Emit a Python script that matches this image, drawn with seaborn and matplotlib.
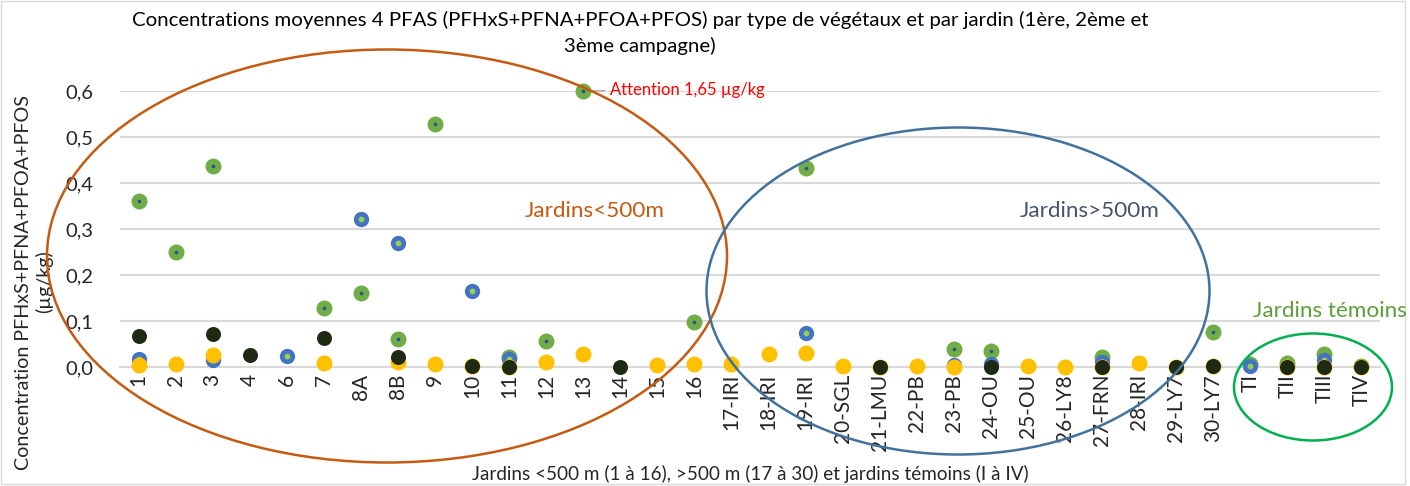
import numpy as np
import pandas as pd
import matplotlib
matplotlib.use("Agg")
import matplotlib.pyplot as plt
from matplotlib.patches import Ellipse, Rectangle
import seaborn as sns

nan = np.nan

categories = ["1", "2", "3", "4", "6", "7", "8A", "8B", "9", "10", "11", "12", "13", "14", "15", "16",
              "17-IRI", "18-IRI", "19-IRI", "20-SGL", "21-LMU", "22-PB", "23-PB", "24-OU", "25-OU",
              "26-LY8", "27-FRN", "28-IRI", "29-LY7", "30-LY7", "TI", "TII", "TIII", "TIV"]

serie_verte = [0.360, 0.250, 0.437, nan, nan, 0.128, 0.160, 0.060, 0.529, nan, 0.022, 0.057, 0.600, nan, nan, 0.097,
               nan, nan, 0.432, nan, nan, nan, 0.040, 0.034, nan,
               nan, 0.022, nan, nan, 0.075, 0.006, 0.009, 0.028, 0.002]
serie_bleue = [0.018, nan, 0.015, nan, 0.024, nan, 0.321, 0.269, nan, 0.166, 0.018, nan, nan, nan, nan, nan,
               nan, nan, 0.073, nan, nan, nan, 0.005, 0.006, nan,
               nan, 0.010, nan, nan, nan, 0.002, nan, 0.015, nan]
serie_jaune = [0.004, 0.006, 0.026, nan, nan, 0.009, nan, 0.011, 0.006, 0.003, 0.001, 0.010, 0.029, nan, 0.004, 0.006,
               0.007, 0.028, 0.031, 0.002, 0.001, 0.002, 0.000, nan, 0.002,
               0.000, 0.001, 0.009, 0.001, 0.003, nan, 0.001, 0.001, 0.001]
serie_noire = [0.068, nan, 0.071, 0.026, nan, 0.062, nan, 0.022, nan, 0.002, 0.000, nan, nan, 0.000, nan, nan,
               nan, nan, nan, nan, 0.000, nan, nan, 0.000, nan,
               nan, 0.000, nan, 0.000, 0.002, nan, 0.000, 0.000, 0.000]

yticks = [0.0, 0.1, 0.2, 0.3, 0.4, 0.5, 0.6]
ytick_labels = ["0,0", "0,1", "0,2", "0,3", "0,4", "0,5", "0,6"]

title = ("Concentrations moyennes 4 PFAS (PFHxS+PFNA+PFOA+PFOS) par type de végétaux et par jardin (1ère, 2ème et\n"
         "3ème campagne)")
ylabel = "Concentration PFHxS+PFNA+PFOA+PFOS\n(µg/kg)"
xlabel = "Jardins <500 m (1 à 16), >500 m (17 à 30) et jardins témoins (I à IV)"
annotation = "Attention 1,65 µg/kg"

sns.set_theme(style="white")
plt.rcParams["font.family"] = ["Lato", "DejaVu Sans"]

W, H = 1410, 486
fig = plt.figure(figsize=(W / 100, H / 100), dpi=100)
ax = fig.add_axes([120 / W, 1 - 367 / H, 1260 / W, 276 / H])

df = pd.DataFrame({"jardin": categories, "verte": serie_verte, "bleue": serie_bleue,
                   "jaune": serie_jaune, "noire": serie_noire})

def strip(col, color, size, z):
    d = df[["jardin", col]].dropna()
    sns.stripplot(data=d, x="jardin", y=col, order=categories, jitter=False, color=color,
                  size=size, linewidth=0, ax=ax, zorder=z)

strip("verte", "#70AD47", 11.5, 3)
strip("verte", "#2F4B9A", 2.6, 3.1)
strip("bleue", "#4472C4", 11.0, 4)
strip("bleue", "#92D050", 4.2, 4.1)
strip("jaune", "#FFC000", 11.5, 5)
strip("noire", "#1E2A14", 10.8, 6)

for c in ax.collections:
    c.set_clip_on(False)

ax.set_ylim(0, 0.6)
ax.set_xlim(-0.5, len(categories) - 0.5)
ax.set_yticks(yticks)
ax.set_yticklabels(ytick_labels, fontsize=14.5)
ax.set_xticks(range(len(categories)))
ax.set_xticklabels(categories, rotation=90, fontsize=15)
ax.tick_params(axis="both", length=0)
ax.tick_params(axis="x", pad=5)
ax.tick_params(axis="y", pad=19)
ax.grid(axis="y", color="#D9D9D9", linewidth=1.5, zorder=0)
ax.set_axisbelow(True)
for s in ["top", "right", "left"]:
    ax.spines[s].set_visible(False)
ax.spines["bottom"].set_color("#D9D9D9")
ax.spines["bottom"].set_linewidth(1.5)
ax.set_xlabel("")
ax.set_ylabel("")

fig.text(640 / W, 1 - 33 / H, title, ha="center", va="center", fontsize=14.7, color="#000000",
         linespacing=1.5)
fig.text(34 / W, 1 - 282 / H, ylabel, ha="center", va="center", rotation=90, fontsize=14.2,
         multialignment="center", linespacing=1.15)
fig.text(750 / W, 1 - 474 / H, xlabel, ha="center", va="center", fontsize=13.6)

ax.annotate(annotation, xy=(categories.index("13"), 0.6), xytext=(19, 1), textcoords="offset points",
            ha="left", va="center", color="#FF0000", fontsize=12,
            arrowprops=dict(arrowstyle="-", color="#A6A6A6", lw=1, shrinkA=1, shrinkB=6),
            annotation_clip=False)

# shapes drawn on top of the chart
fig.patches.append(Ellipse((387 / W, 1 - 256 / H), 680 / W, 413 / H, fill=False, edgecolor="#C55A11",
                           linewidth=1.8, transform=fig.transFigure, zorder=10))
fig.patches.append(Ellipse((958 / W, 1 - 291 / H), 503 / W, 327 / H, fill=False, edgecolor="#41719C",
                           linewidth=1.8, transform=fig.transFigure, zorder=10))
fig.patches.append(Ellipse((1313 / W, 1 - 387 / H), 158 / W, 107 / H, fill=False, edgecolor="#00B050",
                           linewidth=1.8, transform=fig.transFigure, zorder=10))
fig.patches.append(Rectangle((1 / W, 1 - 484 / H), 1404 / W, 483 / H, fill=False, edgecolor="#D9D9D9",
                             linewidth=1, transform=fig.transFigure, zorder=0))

fig.text(595 / W, 1 - 211 / H, "Jardins<500m", ha="center", va="center", fontsize=16.2, color="#C55A11")
fig.text(1090 / W, 1 - 211 / H, "Jardins>500m", ha="center", va="center", fontsize=16.2, color="#44546A")
fig.text(1253 / W, 1 - 311 / H, "Jardins témoins", ha="left", va="center", fontsize=16.2, color="#5E9E3A")

fig.savefig("out.png", dpi=100)
